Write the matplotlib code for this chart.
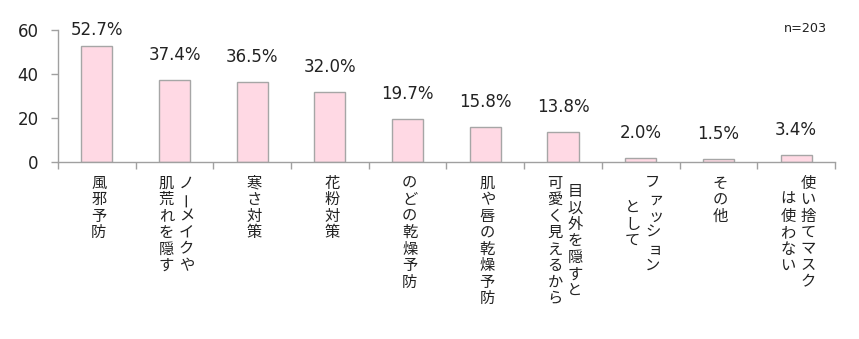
import matplotlib
matplotlib.use("Agg")
import matplotlib.pyplot as plt
import numpy as np

plt.rcParams["font.family"] = ["Noto Sans CJK JP", "DejaVu Sans"]

# data
values = [52.7, 37.4, 36.5, 32.0, 19.7, 15.8, 13.8, 2.0, 1.5, 3.4]
# each label is a list of vertical columns, first column is the rightmost
labels = [
    ["風邪予防"],
    ["ノーメイクや", "肌荒れを隠す"],
    ["寒さ対策"],
    ["花粉対策"],
    ["のどの乾燥予防"],
    ["肌や唇の乾燥予防"],
    ["目以外を隠すと", "可愛く見えるから"],
    ["ファッション", "として"],
    ["その他"],
    ["使い捨てマスク", "は使わない"],
]
y_ticks = [0, 20, 40, 60]
sample_note = "n=203"

small_kana = set("ァィゥェォッャュョぁぃぅぇぉっゃゅょ")
num_font = "DejaVu Sans"

fig = plt.figure(figsize=(8.59, 3.39), dpi=100)
ax = fig.add_axes([0.0675, 0.522, 0.9045, 0.3893])

x = np.arange(len(values))
ax.bar(x, values, width=0.4, color="#FFD9E4", edgecolor="#A6A6A6", linewidth=1)

ax.set_xlim(-0.5, len(values) - 0.5)
ax.set_ylim(0, 60)

# value labels sit ~25px above the bar, but stay inside the plot area
ax_h_px = ax.get_position().height * fig.get_figheight() * fig.dpi
px_per_unit = ax_h_px / 60
for xi, v in zip(x, values):
    ly = min(v + 25 / px_per_unit, 60)
    ax.annotate(f"{v:.1f}%", xy=(xi, ly), ha="center", va="center",
                fontsize=12, family=num_font, color="#222222",
                annotation_clip=False)

ax.set_yticks(y_ticks)
ax.tick_params(axis="y", length=5, width=1, color="#A0A0A0", labelsize=12,
               labelcolor="#222222", pad=9)
for t in ax.get_yticklabels():
    t.set_family(num_font)
ax.set_xticks(np.arange(len(values) + 1) - 0.5)
ax.set_xticklabels([])
ax.tick_params(axis="x", length=5, width=1, color="#A0A0A0")

for side in ["top", "right"]:
    ax.spines[side].set_visible(False)
for side in ["left", "bottom"]:
    ax.spines[side].set_color("#A0A0A0")
    ax.spines[side].set_linewidth(1)

# vertical (tategaki) category labels, drawn char by char
step = 16.5
col_gap = 20
top = 21  # px below the axis to the centre of the first char
for xi, cols in zip(x, labels):
    longest = max(len(c) for c in cols)
    ymid = -(top + (longest - 1) * step / 2)
    ncol = len(cols)
    for ci, col in enumerate(cols):
        dx = 2 + ((ncol - 1) / 2 - ci) * col_gap
        for k, ch in enumerate(col):
            dy = ymid - (k - (len(col) - 1) / 2) * step
            rot = 90 if ch == "ー" else 0
            ox = dx + 3 if ch in small_kana else dx
            ax.annotate(ch, xy=(xi, 0), xytext=(ox, dy),
                        textcoords="offset pixels", ha="center", va="center",
                        fontsize=11, rotation=rot, color="#222222",
                        annotation_clip=False)

fig.text(805 / 859, 1 - 28 / 339, sample_note, ha="center", va="center",
         fontsize=9.2, family=num_font, color="#222222")

plt.savefig("out.png", dpi=100)
